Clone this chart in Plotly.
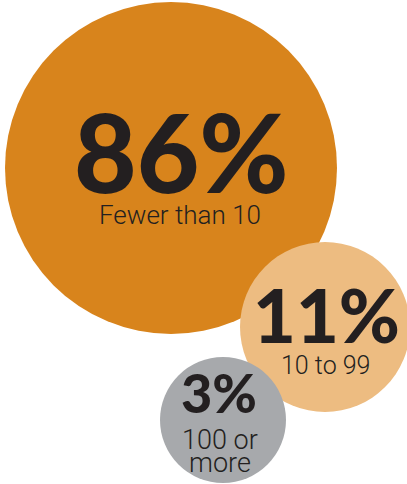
import plotly.graph_objects as go

# Data
categories = ["Fewer than 10", "10 to 99", "100 or more"]
shares = [86, 11, 3]

# Layout (pixel space of a 407x484 canvas)
cx = [171, 325, 223]
cy = [168, 327, 420]
diam = [332, 170, 126]
colors = ["#D8841C", "#EDBC81", "#A7A9AC"]

num_sizes = [108, 74, 54]
num_x = [181, 326, 219]
num_y = [151, 314, 392]

lab_sizes = [26, 25, 27]
lab_x = [180, 325, 220]
lab_y = [215, 365, 440]
lab_line_gap = [0, 0, 23]
lab_wrap = [None, None, "100 or"]

ink = "#231F20"

fig = go.Figure()
fig.add_trace(go.Scatter(
    x=cx, y=cy, mode="markers",
    marker=dict(size=diam, sizemode="diameter", color=colors, opacity=1,
                line=dict(width=0)),
    hoverinfo="skip", showlegend=False,
))

for i, (cat, v) in enumerate(zip(categories, shares)):
    fig.add_annotation(x=num_x[i], y=num_y[i], text=f"{v}%", showarrow=False,
                       xanchor="center", yanchor="middle",
                       font=dict(family="Lato", size=num_sizes[i], color=ink, weight=900))
    if lab_wrap[i] and cat.startswith(lab_wrap[i]):
        lines = [lab_wrap[i], cat[len(lab_wrap[i]):].strip()]
    else:
        lines = [cat]
    for j, line in enumerate(lines):
        fig.add_annotation(x=lab_x[i], y=lab_y[i] + j * lab_line_gap[i], text=line,
                           showarrow=False, xanchor="center", yanchor="middle",
                           font=dict(family="Roboto", size=lab_sizes[i], color=ink, weight=300))

fig.update_layout(
    width=407, height=484, autosize=False,
    margin=dict(l=0, r=0, t=0, b=0),
    paper_bgcolor="white", plot_bgcolor="white",
    xaxis=dict(range=[0, 407], visible=False, fixedrange=True),
    yaxis=dict(range=[484, 0], visible=False, fixedrange=True),
)
fig.write_html("out.html", config={"displayModeBar": False},
               post_script="document.body.style.margin='0';document.body.style.overflow='hidden';")
